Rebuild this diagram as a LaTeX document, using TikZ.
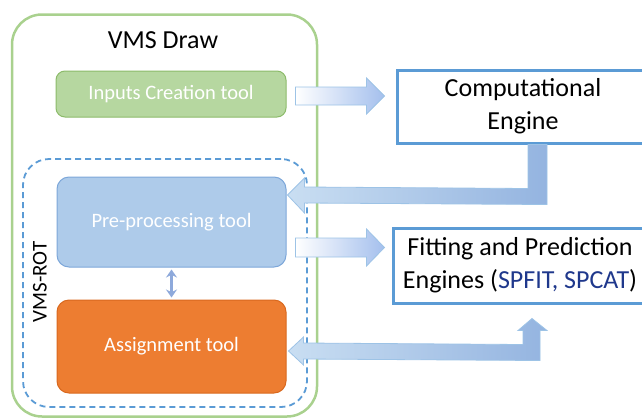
\documentclass[tikz,border=0pt]{standalone}
\usepackage{fontspec}
\setmainfont{Carlito}
\usetikzlibrary{arrows.meta,calc}
\definecolor{greenline}{HTML}{A9D18E}
\definecolor{inputsfill}{HTML}{B6D7A0}
\definecolor{inputsline}{HTML}{8CBB6A}
\definecolor{prefill}{HTML}{AECBEA}
\definecolor{preline}{HTML}{7DA7D9}
\definecolor{orangefill}{HTML}{ED7D31}
\definecolor{orangeline}{HTML}{D9691F}
\definecolor{dashblue}{HTML}{5B9BD5}
\definecolor{engline}{HTML}{5B9BD5}
\definecolor{navy}{RGB}{31,56,140}
\definecolor{arrline}{HTML}{9DC3E6}
\definecolor{arrdark}{HTML}{94B4E0}
\definecolor{arrlight}{HTML}{C9DEF2}
\definecolor{dblarrow}{HTML}{8EA9DB}
\begin{document}
\begin{tikzpicture}[x=1pt,y=-1pt,
  toolbox/.style={rounded corners=12pt, line width=1pt, text=white,
    font=\fontsize{20.5}{24}\selectfont, minimum width=229pt, inner sep=0pt},
  enginebox/.style={draw=engline, line width=3pt, fill=white, align=center,
    font=\fontsize{26}{33}\selectfont, inner sep=0pt},
  blockarrow/.style={draw=arrline, line width=0.8pt, left color=white, right color=arrline!90!blue!80!white},
  bentarrow/.style={draw=arrline, line width=0.8pt, left color=arrlight, right color=arrdark},
  biarrow/.style={draw=dblarrow, line width=3pt, {Stealth[length=8pt,width=11pt]}-{Stealth[length=8pt,width=11pt]}}
]
\useasboundingbox (0,0) rectangle (642,418);
% outer container
\node[draw=greenline, line width=2.5pt, rounded corners=30pt, minimum width=305pt, minimum height=402pt, inner sep=0pt] (vmsdraw) at (164.5,215.5) {};
\node[font=\fontsize{26}{30}\selectfont, inner sep=0pt] (drawlabel) at (163,40) {VMS Draw};
% dashed VMS-ROT container
\node[draw=dashblue, dashed, dash pattern=on 6pt off 4pt, line width=1.8pt, rounded corners=26pt, minimum width=284pt, minimum height=248pt, inner sep=0pt] (rot) at (165,283) {};
\node[rotate=90, font=\fontsize{21}{24}\selectfont, inner sep=0pt] (rotlabel) at (40,282) {VMS-ROT};
% tools
\node[toolbox, draw=inputsline, fill=inputsfill, rounded corners=9pt, minimum width=230pt, minimum height=46pt] (inputs) at (171,94) {Inputs Creation tool};
\node[toolbox, draw=preline, fill=prefill, minimum height=90pt] (pre) at (171.5,222) {Pre-processing tool};
\node[toolbox, draw=orangeline, fill=orangefill, minimum height=93pt] (assign) at (171.5,346.5) {Assignment tool};
% engines
\node[enginebox, minimum width=252pt, minimum height=73pt] (comp) at (523,106.5) {Computational\\Engine};
\node[enginebox, minimum width=254pt, minimum height=75pt] (fit) at (520,265.5) {Fitting and Prediction\\Engines ({\color{navy}SPFIT, SPCAT})};
% double arrow between tools
\draw[biarrow, shorten >=2pt, shorten <=2pt] (pre.south) -- (assign.north);
% arrow inputs -> computational engine
\path[blockarrow] ($(inputs.east)+(9,-7)$) -- ($(comp.west)+(-29,-19.5)$) -- ++(0,-9)
  -- ($(comp.west)+(-11,-10.5)$) -- ++(-18,18) -- ++(0,-9) -- ($(inputs.east)+(9,11)$) -- cycle;
% arrow pre-processing -> fitting engines
\path[blockarrow] ($(pre.east)+(9,16)$) -- ($(fit.west)+(-25,-27.5)$) -- ++(0,-9)
  -- ($(fit.west)+(-7,-18)$) -- ++(-18,18.5) -- ++(0,-9) -- ($(pre.east)+(9,35)$) -- cycle;
% bent arrow computational engine -> pre-processing
\path[bentarrow] ($(comp.south)+(5,0)$) -- ++(19,0) -- ++(0,60) -- ($(pre.east)+(18,-19)$)
  -- ++(0,10) -- ($(pre.east)+(1,-27)$) -- ++(17,-17) -- ++(0,9) -- ($(comp.south)+(5,44)$) -- cycle;
% bent double arrow assignment <-> fitting engines
\path[bentarrow] ($(assign.east)+(2,4.5)$) -- ++(15,-14) -- ++(0,6) -- ($(fit.south)+(3,40)$)
  -- ++(0,-14) -- ++(-5,0) -- ($(fit.south)+(12,14)$) -- ++(15,12) -- ++(-7,0) -- ++(0,30)
  -- ($(assign.east)+(17,12.5)$) -- ++(0,6) -- cycle;
\end{tikzpicture}
\end{document}
